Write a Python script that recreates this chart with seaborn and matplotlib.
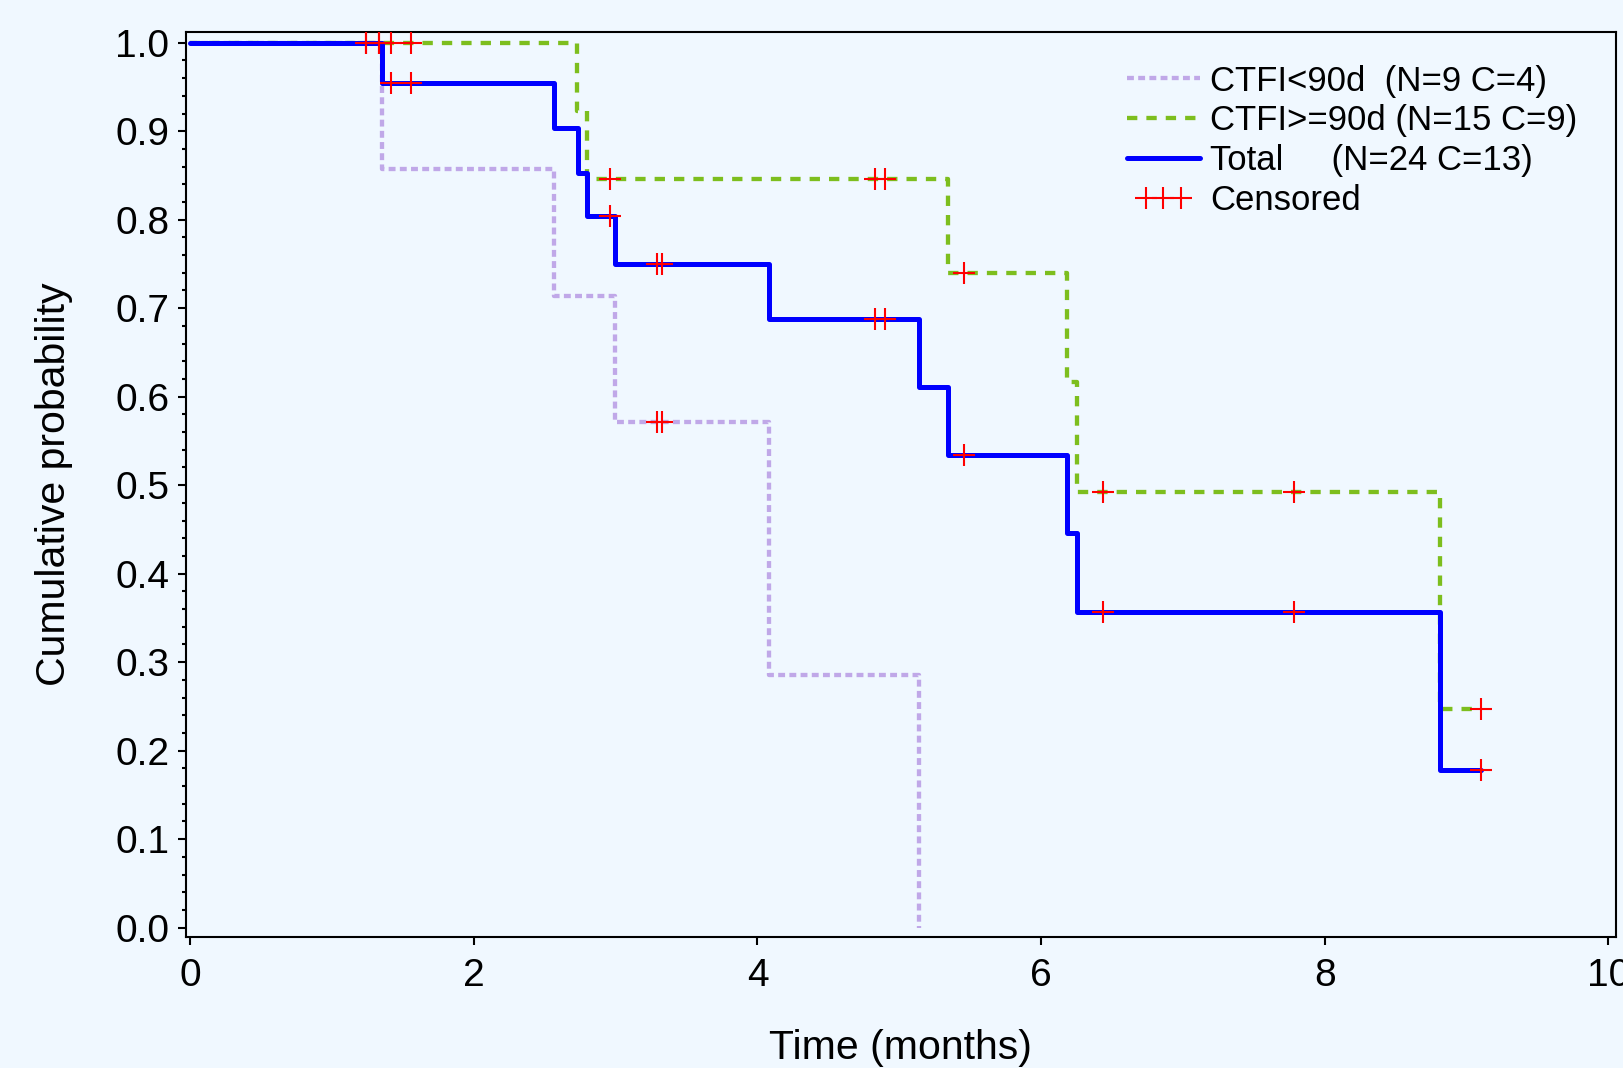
import numpy as np
import pandas as pd
import matplotlib
matplotlib.use("Agg")
import matplotlib.pyplot as plt
from matplotlib.lines import Line2D
from matplotlib.legend_handler import HandlerLine2D
from matplotlib.ticker import MultipleLocator, FormatStrFormatter
import seaborn as sns

# ---------------- data ----------------
# step curves (time in months, cumulative probability), drawn as steps-post
lt90_time = [0.0, 1.35, 2.565, 2.995, 4.08, 5.14]
lt90_prob = [1.0, 0.857, 0.714, 0.571, 0.286, 0.0]

ge90_time = [0.0, 2.73, 2.795, 5.34, 6.18, 6.25, 8.81, 9.10]
ge90_prob = [1.0, 0.923, 0.846, 0.740, 0.617, 0.492, 0.247, 0.247]

total_time = [0.0, 1.35, 2.565, 2.735, 2.795, 2.995, 4.08, 5.14, 5.34, 6.18, 6.25, 8.81, 9.10]
total_prob = [1.0, 0.954, 0.904, 0.853, 0.804, 0.750, 0.688, 0.611, 0.534, 0.446, 0.357, 0.178, 0.178]

# censored observations (time, probability at which the cross is drawn)
lt90_cens_time = [1.236, 1.328, 3.29, 3.33]
lt90_cens_prob = [1.0, 1.0, 0.571, 0.571]

ge90_cens_time = [1.416, 1.558, 2.958, 4.83, 4.90, 5.456, 6.437, 7.78, 9.10]
ge90_cens_prob = [1.0, 1.0, 0.846, 0.846, 0.846, 0.740, 0.492, 0.492, 0.247]

total_cens_time = [1.236, 1.328, 1.416, 1.558, 2.958, 3.29, 3.33, 4.83, 4.90, 5.456, 6.437, 7.78, 9.10]
total_cens_prob = [1.0, 1.0, 0.954, 0.954, 0.804, 0.750, 0.750, 0.688, 0.688, 0.534, 0.357, 0.357, 0.178]

labels = ["CTFI<90d  (N=9 C=4)", "CTFI>=90d (N=15 C=9)", "Total     (N=24 C=13)", "Censored"]
x_ticks = [0, 2, 4, 6, 8, 10]
x_label = "Time (months)"
y_label = "Cumulative probability"

# ---------------- style ----------------
sns.set_style("ticks")
BG = "#F0F8FF"
plt.rcParams["font.family"] = ["Liberation Sans", "DejaVu Sans"]
plt.rcParams["axes.edgecolor"] = "black"
plt.rcParams["axes.linewidth"] = 1.5

fig = plt.figure(figsize=(16.24, 10.68), dpi=100, facecolor=BG)
ax = fig.add_axes([186 / 1624, 1 - 936.7 / 1068, (1615.7 - 186) / 1624, (936.7 - 32) / 1068])
ax.set_facecolor(BG)

c_lt90 = "#C0A8E8"
c_ge90 = "#7DBE1E"
c_tot = "#0000FF"

sns.lineplot(x=lt90_time, y=lt90_prob, ax=ax, drawstyle="steps-post", estimator=None, sort=False,
             color=c_lt90, linewidth=3.1, linestyle=(0, (1.6, 1.0)), label=labels[0], zorder=2)
sns.lineplot(x=ge90_time, y=ge90_prob, ax=ax, drawstyle="steps-post", estimator=None, sort=False,
             color=c_ge90, linewidth=3.1, linestyle=(0, (2.4, 2.1)), label=labels[1], zorder=3)
sns.lineplot(x=total_time, y=total_prob, ax=ax, drawstyle="steps-post", estimator=None, sort=False,
             color=c_tot, linewidth=3.6, linestyle="-", label=labels[2], zorder=4)

cens_x = lt90_cens_time + ge90_cens_time + total_cens_time
cens_y = lt90_cens_prob + ge90_cens_prob + total_cens_prob
sns.scatterplot(x=cens_x, y=cens_y, ax=ax, marker="+", s=240, color="red", linewidth=1.5,
                zorder=6, legend=False)

ax.set_xlim(-0.03, 10.052)
ax.set_ylim(-0.0102, 1.0121)
ax.set_xticks(x_ticks)
ax.yaxis.set_major_locator(MultipleLocator(0.1))
ax.yaxis.set_minor_locator(MultipleLocator(0.02))
ax.yaxis.set_major_formatter(FormatStrFormatter("%.1f"))

ax.tick_params(axis="both", which="major", direction="out", length=6, width=1.5,
               labelsize=28, color="black", labelcolor="black")
ax.tick_params(axis="x", pad=9)
ax.tick_params(axis="y", pad=6)
ax.tick_params(axis="y", which="minor", direction="out", length=3.2, width=1.5, color="black")
ax.tick_params(axis="x", which="minor", bottom=False)
for s in ax.spines.values():
    s.set_visible(True)
    s.set_linewidth(1.5)
    s.set_color("black")

ax.set_xlabel(x_label, fontsize=29.5, color="black")
ax.set_ylabel(y_label, fontsize=29.5, color="black")
ax.xaxis.set_label_coords(0.5, -0.102)
ax.yaxis.set_label_coords(-0.079, 0.5)

line_handles = ax.get_lines()[:3]
cens_handle = Line2D([], [], color="red", marker="+", linestyle="none", markersize=15.5, markeredgewidth=1.5)
leg = ax.legend(handles=list(line_handles) + [cens_handle], labels=labels,
                loc="upper left", bbox_to_anchor=(1127 / 1624, 1 - 64.5 / 1068),
                bbox_transform=fig.transFigure, frameon=False, fontsize=25,
                handlelength=2.1, handletextpad=0.29, labelspacing=0.2,
                borderpad=0, borderaxespad=0,
                handler_map={cens_handle: HandlerLine2D(numpoints=3, marker_pad=0.55)})
for t in leg.get_texts():
    t.set_color("black")

fig.savefig("out.png", dpi=100, facecolor=BG)
